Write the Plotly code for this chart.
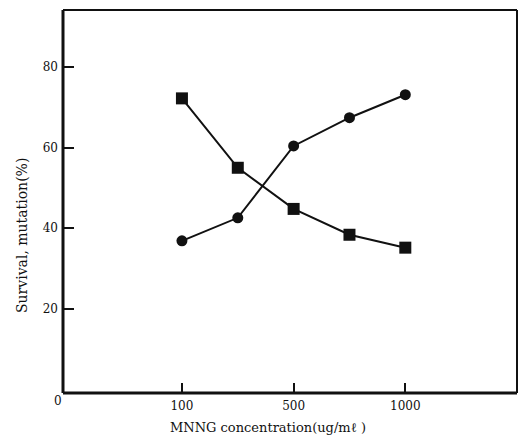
import plotly.graph_objects as go

# MNNG treatment doses (ug/ml); only some of them carry a tick label
concentrations = ["100", "250", "500", "750", "1000"]
labelled_doses = ["100", "500", "1000"]

# Percent values at each dose
survival = [72.2, 55.0, 44.8, 38.4, 35.2]
mutation = [36.9, 42.6, 60.4, 67.4, 73.1]

y_ticks = [20, 40, 60, 80]

SERIF = "DejaVu Serif"
INK = "#111111"

fig = go.Figure()

fig.add_trace(go.Scatter(
    x=concentrations, y=survival, name="Survival",
    mode="lines+markers",
    line=dict(color=INK, width=2),
    marker=dict(symbol="square", size=12, color=INK),
))
fig.add_trace(go.Scatter(
    x=concentrations, y=mutation, name="Mutation",
    mode="lines+markers",
    line=dict(color=INK, width=2),
    marker=dict(symbol="circle", size=11, color=INK),
))

fig.update_layout(
    width=520, height=441,
    margin=dict(l=63, r=3, t=10, b=48),
    paper_bgcolor="white", plot_bgcolor="white",
    showlegend=False,
    font=dict(family=SERIF, color=INK, size=12),
    xaxis=dict(
        type="category",
        categoryorder="array", categoryarray=concentrations,
        range=[-2.13, 6.0],
        tickmode="array", tickvals=labelled_doses, ticktext=labelled_doses,
        ticks="inside", ticklen=10, tickwidth=2, tickcolor=INK,
        showgrid=False, zeroline=False, showline=False,
        ticklabelstandoff=4,
        tickfont=dict(family=SERIF, size=12, color=INK),
    ),
    yaxis=dict(
        range=[-0.82, 94.1],
        tickmode="array", tickvals=y_ticks,
        ticks="inside", ticklen=11, tickwidth=2, tickcolor=INK,
        showgrid=False, zeroline=False, showline=False,
        ticklabelstandoff=4,
        tickfont=dict(family=SERIF, size=12, color=INK),
    ),
)

# Frame: heavier left/bottom axes, lighter top/right edges
fig.add_shape(type="line", xref="paper", yref="paper", x0=0, x1=0, y0=0, y1=1,
              line=dict(color=INK, width=3))
fig.add_shape(type="line", xref="paper", yref="paper", x0=0, x1=1, y0=0, y1=0,
              line=dict(color=INK, width=3))
fig.add_shape(type="line", xref="paper", yref="paper", x0=0, x1=1, y0=1, y1=1,
              line=dict(color=INK, width=2))
fig.add_shape(type="line", xref="paper", yref="paper", x0=1, x1=1, y0=0, y1=1,
              line=dict(color=INK, width=2))

# Origin label sits in the lower-left corner
fig.add_annotation(text="0", xref="paper", yref="paper",
                   x=(58 - 63) / 454, y=(431 - 401 - 38) / 383,
                   showarrow=False, font=dict(family=SERIF, size=12, color=INK),
                   xanchor="center", yanchor="middle")

# Axis titles
fig.add_annotation(text="MNNG concentration(ug/mℓ )", xref="paper", yref="paper",
                   x=(268 - 63) / 454, y=(393 - 427) / 383,
                   showarrow=False, font=dict(family=SERIF, size=13, color=INK),
                   xanchor="center", yanchor="middle")
fig.add_annotation(text="Survival, mutation(%)", xref="paper", yref="paper",
                   x=(22 - 63) / 454, y=(393 - 236) / 383,
                   textangle=-90,
                   showarrow=False, font=dict(family=SERIF, size=14, color=INK),
                   xanchor="center", yanchor="middle")

fig.write_html("out.html")
